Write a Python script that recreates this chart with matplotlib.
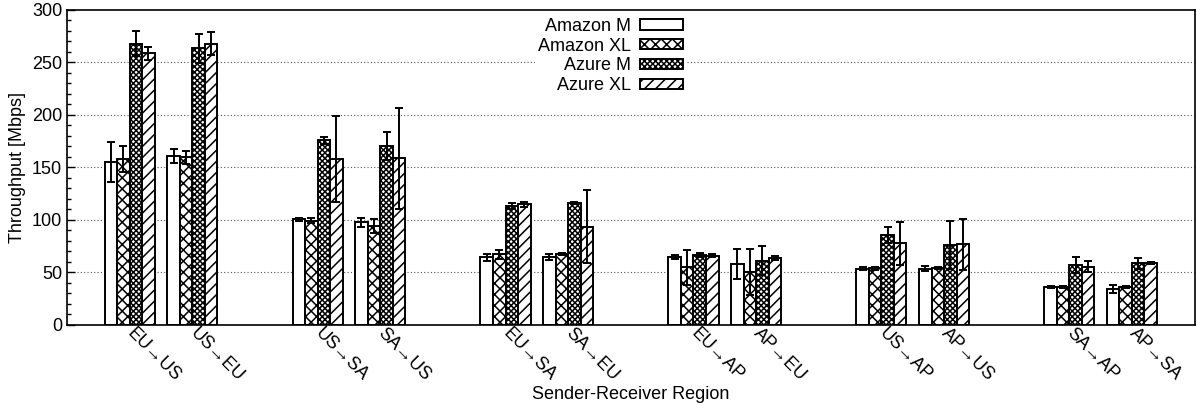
import matplotlib.pyplot as plt
import numpy as np
from matplotlib.ticker import MultipleLocator

plt.rcParams["font.family"] = ["Liberation Sans", "DejaVu Sans"]
plt.rcParams["font.size"] = 13
plt.rcParams["hatch.linewidth"] = 1.1

# Throughput per sender->receiver pair, mean and std [Mbps]
routes = ["EU→US", "US→EU", "US→SA", "SA→US", "EU→SA", "SA→EU",
          "EU→AP", "AP→EU", "US→AP", "AP→US", "SA→AP", "AP→SA"]
amazon_m = [155.5, 161.0, 100.6, 97.8, 64.4, 64.8, 64.4, 58.0, 53.5, 53.7, 35.9, 34.3]
amazon_m_err = [19.0, 7.0, 1.5, 4.5, 3.5, 2.5, 2.0, 14.5, 1.5, 2.4, 1.0, 3.6]
amazon_xl = [158.0, 159.7, 99.3, 94.3, 67.3, 67.9, 55.0, 50.8, 53.8, 54.3, 35.9, 35.9]
amazon_xl_err = [12.0, 6.0, 2.5, 6.5, 4.5, 1.0, 16.5, 22.0, 1.5, 1.0, 1.0, 1.0]
azure_m = [268.0, 263.5, 175.7, 170.5, 113.3, 116.5, 66.3, 61.3, 85.6, 75.9, 57.1, 58.7]
azure_m_err = [12.0, 14.0, 3.0, 13.0, 2.5, 1.0, 2.0, 13.7, 7.8, 23.0, 8.0, 5.0]
azure_xl = [258.7, 268.0, 158.4, 158.6, 115.0, 93.6, 66.0, 63.5, 77.8, 76.8, 55.6, 58.7]
azure_xl_err = [6.0, 11.0, 41.0, 48.0, 2.5, 35.0, 1.5, 2.0, 20.5, 24.0, 5.0, 1.0]

series = [
    ("Amazon M", amazon_m, amazon_m_err, ""),
    ("Amazon XL", amazon_xl, amazon_xl_err, "xxx"),
    ("Azure M", azure_m, azure_m_err, "xxxxxx"),
    ("Azure XL", azure_xl, azure_xl_err, "///"),
]

# two routes side by side, then a gap of one slot
idx = np.arange(len(routes))
x = (idx // 2) * 3 + idx % 2
width = 0.2

fig = plt.figure(figsize=(11.97, 4.09), dpi=100)
ax = fig.add_axes([0.056, 0.2054, 0.942, 0.7702])

for k, (name, vals, errs, hatch) in enumerate(series):
    ax.bar(x + (k - 1.5) * width, vals, width, yerr=errs, label=name,
           color="white", edgecolor="black", linewidth=1.4, hatch=hatch,
           zorder=2,
           error_kw=dict(ecolor="black", elinewidth=1.4, capsize=3, capthick=1.4))

ax.set_xlim(-1, 17)
ax.set_ylim(0, 300)
ax.yaxis.set_major_locator(MultipleLocator(50))
ax.yaxis.set_minor_locator(MultipleLocator(10))
ax.tick_params(axis="y", which="major", direction="in", length=6, width=1, labelsize=13)
ax.tick_params(axis="y", which="minor", direction="in", length=3, width=1)
ax.tick_params(axis="x", length=0, pad=4)
ax.set_xticks(x)
ax.set_xticklabels(routes, rotation=-45, ha="left", va="center",
                   rotation_mode="anchor", fontsize=13)

for v in range(50, 300, 50):
    ax.axhline(v, color="#555555", linestyle=(0, (1, 2)), linewidth=0.8, zorder=0)

for s in ax.spines.values():
    s.set_linewidth(1.2)

ax.set_ylabel("Throughput [Mbps]", fontsize=13, labelpad=4)
ax.set_xlabel("Sender-Receiver Region", fontsize=13, labelpad=1)

leg = ax.legend(loc="upper right", bbox_to_anchor=(0.557, 1.012), markerfirst=False,
                frameon=True, fancybox=False, edgecolor="none", facecolor="white",
                framealpha=1, handlelength=2.4, handleheight=0.5,
                labelspacing=0.15, borderpad=0.15, handletextpad=0.5, fontsize=13)
leg.set_zorder(5)
for t in leg.get_texts():
    t.set_ha("right")

fig.savefig("out.png", dpi=100)
